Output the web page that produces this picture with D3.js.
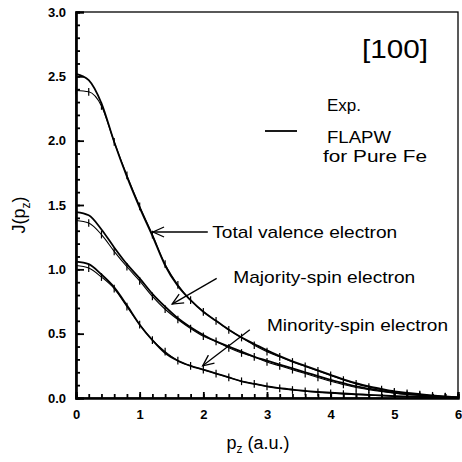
<!DOCTYPE html>
<html>
<head>
<meta charset="utf-8">
<title></title>
<script src="https://d3js.org/d3.v7.min.js"></script>
<style>
  html, body { margin: 0; padding: 0; background: white; }
  text { font-family: "Liberation Sans", Arial, sans-serif; }
</style>
</head>
<body>
<div id="chart"></div>
<script>
// momentum grid (a.u.)
const pz = [0, 0.2, 0.4, 0.6, 0.8, 1.0, 1.2, 1.4, 1.6, 1.8, 2.0, 2.2, 2.4, 2.6, 2.8, 3.0,
            3.2, 3.4, 3.6, 3.8, 4.0, 4.2, 4.4, 4.6, 4.8, 5.0, 5.2, 5.4, 5.6, 5.8, 6.0];

// FLAPW (pure Fe)
const flapwTotal = [2.52, 2.47, 2.29, 1.99, 1.72, 1.48, 1.26, 1.03, 0.87, 0.76, 0.67, 0.60, 0.53, 0.47, 0.42, 0.37,
                    0.325, 0.285, 0.25, 0.215, 0.18, 0.145, 0.115, 0.09, 0.07, 0.052, 0.04, 0.03, 0.02, 0.012, 0.005];
const flapwMajority = [1.445, 1.42, 1.31, 1.17, 1.04, 0.93, 0.81, 0.71, 0.62, 0.55, 0.49, 0.44, 0.40, 0.36, 0.32, 0.29,
                       0.26, 0.23, 0.20, 0.17, 0.14, 0.115, 0.09, 0.072, 0.056, 0.042, 0.031, 0.022, 0.015, 0.009, 0.004];
const flapwMinority = [1.06, 1.04, 0.96, 0.86, 0.72, 0.57, 0.45, 0.35, 0.29, 0.25, 0.22, 0.19, 0.16, 0.13, 0.11, 0.09,
                       0.077, 0.066, 0.056, 0.048, 0.041, 0.035, 0.03, 0.025, 0.02, 0.015, 0.012, 0.009, 0.006, 0.004, 0.002];

// experiment
const expTotal = [2.39, 2.38, 2.27, 1.99, 1.73, 1.49, 1.27, 1.04, 0.88, 0.76, 0.67, 0.60, 0.53, 0.47, 0.41, 0.36,
                  0.32, 0.28, 0.245, 0.21, 0.175, 0.14, 0.11, 0.085, 0.065, 0.048, 0.036, 0.026, 0.017, 0.01, 0.005];
const expMajority = [1.38, 1.36, 1.27, 1.14, 1.02, 0.91, 0.79, 0.69, 0.61, 0.54, 0.48, 0.44, 0.39, 0.35, 0.32, 0.28,
                     0.25, 0.22, 0.19, 0.16, 0.13, 0.105, 0.082, 0.065, 0.05, 0.037, 0.027, 0.02, 0.012, 0.008, 0.004];
const expMinority = [1.03, 1.01, 0.94, 0.85, 0.71, 0.57, 0.45, 0.36, 0.29, 0.25, 0.22, 0.19, 0.16, 0.13, 0.11, 0.09,
                     0.075, 0.062, 0.052, 0.044, 0.037, 0.031, 0.026, 0.021, 0.017, 0.013, 0.01, 0.008, 0.005, 0.003, 0.002];
const expError = 0.03;

const xTicks = [0, 1, 2, 3, 4, 5, 6];
const yTicks = [0, 0.5, 1.0, 1.5, 2.0, 2.5, 3.0];

// annotations: label, text position, arrow start, arrow tip (data units)
const annLabels = ["Total valence electron", "Majority-spin electron", "Minority-spin electron"];
const annText = [[2.14, 1.24], [2.47, 0.89], [3.0, 0.52]];
const annWidth = [185, 182, 181];
const annFrom = [[2.07, 1.29], [2.21, 0.93], [2.73, 0.53]];
const annTo = [[1.21, 1.29], [1.51, 0.73], [1.99, 0.25]];

const width = 462, height = 462;
const margin = { top: 12, right: 4, bottom: 64, left: 76 };

const svg = d3.select("#chart").append("svg")
  .attr("width", width).attr("height", height);
svg.append("rect").attr("width", width).attr("height", height).attr("fill", "white");

const x = d3.scaleLinear().domain([0, 6]).range([margin.left, width - margin.right]);
const y = d3.scaleLinear().domain([0, 3]).range([height - margin.bottom, margin.top]);

// frame
svg.append("rect")
  .attr("x", x(0)).attr("y", y(3))
  .attr("width", x(6) - x(0)).attr("height", y(0) - y(3))
  .attr("fill", "none").attr("stroke", "black").attr("stroke-width", 1.3);

// y axis, ticks inward
svg.append("g").attr("transform", `translate(${x(0)},0)`)
  .call(d3.axisLeft(y).tickValues(yTicks).tickSize(-8).tickPadding(10).tickFormat(d3.format(".1f")));
svg.append("g").attr("transform", `translate(${x(0)},0)`)
  .call(d3.axisLeft(y).tickValues(d3.range(0, 3.01, 0.1)).tickSize(-4).tickFormat(""));
// x axis
svg.append("g").attr("transform", `translate(0,${y(0)})`)
  .call(d3.axisBottom(x).tickValues(xTicks).tickSize(-6).tickPadding(12).tickFormat(d3.format("d")));
svg.append("g").attr("transform", `translate(0,${y(0)})`)
  .call(d3.axisBottom(x).tickValues(d3.range(0, 6.01, 0.2)).tickSize(-4).tickFormat(""));

svg.selectAll(".domain").attr("stroke-width", 2.2);
svg.selectAll(".tick line").attr("stroke-width", 1.8);
svg.selectAll(".tick text")
  .style("font-family", "'Liberation Sans', Arial, sans-serif")
  .style("font-size", "13px").style("font-weight", "bold");

// axis titles
const yTitle = svg.append("text")
  .attr("transform", `translate(25,${(y(0) + y(3)) / 2 + 10}) rotate(-90)`)
  .attr("text-anchor", "middle").style("font-size", "18px");
yTitle.append("tspan").text("J(p");
yTitle.append("tspan").attr("dy", 5).style("font-size", "12px").text("z");
yTitle.append("tspan").attr("dy", -5).text(")");

const xTitle = svg.append("text")
  .attr("x", 258).attr("y", 449)
  .attr("text-anchor", "middle").style("font-size", "18px");
xTitle.append("tspan").text("p");
xTitle.append("tspan").attr("dy", 4).style("font-size", "12px").text("z");
xTitle.append("tspan").attr("dy", -4).text(" (a.u.)");

// curves
const line = d3.line().x(d => x(d[0])).y(d => y(d[1])).curve(d3.curveMonotoneX);
const pairs = vals => pz.map((p, i) => [p, vals[i]]);

[flapwTotal, flapwMajority, flapwMinority].forEach(s => {
  svg.append("path").datum(pairs(s))
    .attr("d", line).attr("fill", "none")
    .attr("stroke", "black").attr("stroke-width", 1.8);
});

[expTotal, expMajority, expMinority].forEach(s => {
  svg.append("path").datum(pairs(s))
    .attr("d", line).attr("fill", "none")
    .attr("stroke", "black").attr("stroke-width", 1.1);
  svg.append("g").selectAll("line")
    .data(pairs(s))
    .join("line")
    .attr("x1", d => x(d[0])).attr("x2", d => x(d[0]))
    .attr("y1", d => y(d[1] + expError)).attr("y2", d => y(Math.max(0, d[1] - expError)))
    .attr("stroke", "black").attr("stroke-width", 1.2);
});

// arrows
svg.append("defs").append("marker")
  .attr("id", "arr").attr("markerUnits", "userSpaceOnUse")
  .attr("viewBox", "-12 -6 14 12").attr("refX", 0).attr("refY", 0)
  .attr("markerWidth", 14).attr("markerHeight", 12).attr("orient", "auto")
  .append("path").attr("d", "M-11,-5 L0,0 L-11,5")
  .attr("fill", "none").attr("stroke", "black").attr("stroke-width", 1.3);

annLabels.forEach((t, i) => {
  svg.append("line")
    .attr("x1", x(annFrom[i][0])).attr("y1", y(annFrom[i][1]))
    .attr("x2", x(annTo[i][0])).attr("y2", y(annTo[i][1]))
    .attr("stroke", "black").attr("stroke-width", 1.3)
    .attr("marker-end", "url(#arr)");
  svg.append("text")
    .attr("x", x(annText[i][0])).attr("y", y(annText[i][1]))
    .attr("textLength", annWidth[i]).attr("lengthAdjust", "spacingAndGlyphs")
    .style("font-size", "17px").text(t);
});

// direction label and legend
svg.append("text").attr("x", 362).attr("y", 58)
  .attr("textLength", 66).attr("lengthAdjust", "spacingAndGlyphs")
  .style("font-size", "26px").text("[100]");
svg.append("text").attr("x", 327).attr("y", 111)
  .style("font-size", "17px").text("Exp.");
svg.append("line").attr("x1", 265).attr("x2", 297).attr("y1", 131).attr("y2", 131)
  .attr("stroke", "black").attr("stroke-width", 1.8);
svg.append("text").attr("x", 327).attr("y", 143)
  .attr("textLength", 64).attr("lengthAdjust", "spacingAndGlyphs")
  .style("font-size", "17px").text("FLAPW");
svg.append("text").attr("x", 323).attr("y", 162)
  .attr("textLength", 104).attr("lengthAdjust", "spacingAndGlyphs")
  .style("font-size", "17px").text("for Pure Fe");
</script>
</body>
</html>
